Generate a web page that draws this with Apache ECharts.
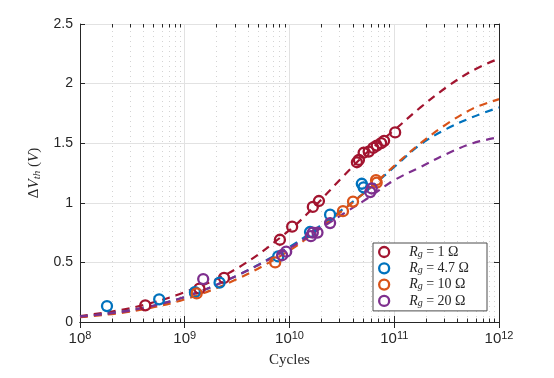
<!DOCTYPE html>
<html><head><meta charset="utf-8">
<script src="https://cdn.jsdelivr.net/npm/echarts@6/dist/echarts.min.js"></script>
<style>html,body{margin:0;padding:0;background:#fff}#c{width:554px;height:378px}</style>
</head><body><div id="c"></div>
<script>
// ---- data ----
const seriesNames = ['Rg = 1 Ω', 'Rg = 4.7 Ω', 'Rg = 10 Ω', 'Rg = 20 Ω'];
const rgLabels = ['1', '4.7', '10', '20'];
const colors = ['#A2142F', '#0072BD', '#D95319', '#7E2F8E'];

const meas1 = [[4.2e8,0.14],[1.38e9,0.28],[2.37e9,0.37],[8.1e9,0.69],[1.06e10,0.80],[1.67e10,0.965],[1.91e10,1.015],
  [4.4e10,1.34],[4.6e10,1.36],[5.1e10,1.42],[5.7e10,1.43],[6.3e10,1.46],[6.8e10,1.48],[7.5e10,1.50],[8.0e10,1.52],[1.02e11,1.59]];
const meas47 = [[1.81e8,0.134],[5.7e8,0.19],[1.25e9,0.25],[2.15e9,0.33],[7.8e9,0.55],[1.57e10,0.755],[2.44e10,0.90],[4.9e10,1.16],[5.1e10,1.13]];
const meas10 = [[1.3e9,0.24],[7.3e9,0.50],[3.24e10,0.93],[4.04e10,1.01],[6.7e10,1.19],[6.8e10,1.17]];
const meas20 = [[1.5e9,0.36],[8.5e9,0.56],[9.3e9,0.59],[1.6e10,0.72],[1.67e10,0.75],[1.85e10,0.75],[2.44e10,0.83],[5.9e10,1.09],[6.1e10,1.12]];

const fitX = [1e8,3.16e8,1e9,3.16e9,1e10,1.78e10,3.16e10,5.62e10,1e11,1.78e11,3.16e11,5.62e11,1e12];
const fit1  = [0.05,0.12,0.25,0.45,0.77,0.98,1.21,1.43,1.61,1.80,1.97,2.11,2.21];
const fit47 = [0.045,0.10,0.21,0.39,0.63,0.78,0.94,1.11,1.30,1.49,1.62,1.72,1.80];
const fit10 = [0.04,0.09,0.19,0.36,0.60,0.76,0.93,1.11,1.31,1.50,1.66,1.79,1.87];
const fit20 = [0.045,0.10,0.21,0.39,0.62,0.76,0.90,1.04,1.19,1.30,1.41,1.50,1.55];

const xMin = 1e8, xMax = 1e12, yMin = 0, yMax = 2.5, yStep = 0.5;
const minorX = [];
for (let d = 8; d < 12; d++) for (let m = 2; m <= 9; m++) minorX.push(m * Math.pow(10, d));

// ---- chart ----
const chart = echarts.init(document.getElementById('c'), null, {renderer: 'canvas'});
const meas = [meas1, meas47, meas10, meas20];
const fits = [fit1, fit47, fit10, fit20];
const axisColor = '#262626';
const sans = 'Liberation Sans, Arial, sans-serif';
const serif = 'Liberation Serif, Times New Roman, serif';

const series = [];
series.push({
  type: 'custom', name: 'minor', coordinateSystem: 'cartesian2d', silent: true, z: 1,
  data: minorX.map(v => [v, 0]),
  renderItem: (params, api) => {
    const x = api.value(0);
    const b = api.coord([x, yMin]); const t = api.coord([x, yMax]);
    const px = Math.round(b[0]) + 0.5;
    return {type: 'group', children: [
      {type: 'line', shape: {x1: px, y1: b[1], x2: px, y2: t[1]}, style: {stroke: '#d4d4d4', lineWidth: 1, lineDash: [1, 4]}},
      {type: 'line', shape: {x1: px, y1: b[1], x2: px, y2: b[1] - 3.5}, style: {stroke: axisColor, lineWidth: 1}},
      {type: 'line', shape: {x1: px, y1: t[1], x2: px, y2: t[1] + 3.5}, style: {stroke: axisColor, lineWidth: 1}}
    ]};
  }
});
for (let i = 0; i < 4; i++) {
  series.push({
    type: 'line', name: 'fit' + i, data: fitX.map((x, j) => [x, fits[i][j]]),
    smooth: 0.35, showSymbol: false, silent: true, z: 3,
    lineStyle: {color: colors[i], width: 2.2, type: [8, 6]}
  });
}
for (let i = 0; i < 4; i++) {
  series.push({
    type: 'scatter', name: seriesNames[i], data: meas[i], symbol: 'circle', symbolSize: 10, z: 5,
    itemStyle: {color: '#ffffff00', borderColor: colors[i], borderWidth: 2.3, opacity: 1}
  });
}

const option = {
  backgroundColor: '#fff',
  animation: false,
  grid: {left: 80, top: 24, right: 55, bottom: 56, containLabel: false},
  legend: {
    data: seriesNames.map(n => ({name: n, icon: 'circle', itemStyle: {color: '#ffffff00', borderWidth: 2.3}})),
    orient: 'vertical', left: 373, top: 243,
    itemWidth: 40, itemHeight: 10, itemGap: 2.3,
    padding: [2, 18, 3, 5],
    backgroundColor: '#fff', borderColor: '#4d4d4d', borderWidth: 1,
    formatter: name => {
      const i = seriesNames.indexOf(name);
      return '{i|R}{s|g}{n| = ' + rgLabels[i] + ' Ω}';
    },
    textStyle: {
      rich: {
        i: {fontFamily: serif, fontStyle: 'italic', fontSize: 14, color: '#262626', lineHeight: 14},
        s: {fontFamily: serif, fontStyle: 'italic', fontSize: 10, color: '#262626', lineHeight: 10, padding: [4, 0, 0, 0]},
        n: {fontFamily: serif, fontSize: 14, color: '#262626', lineHeight: 14}
      }
    }
  },
  xAxis: [{
    type: 'log', logBase: 10, min: xMin, max: xMax, position: 'bottom',
    axisLine: {show: true, lineStyle: {color: axisColor, width: 1}},
    axisTick: {show: true, inside: true, length: 6, lineStyle: {color: axisColor}},
    splitLine: {show: true, lineStyle: {color: '#e2e2e2', width: 1}},
    axisLabel: {
      margin: 8,
      formatter: v => '{b|10}{e|' + Math.round(Math.log10(v)) + '}',
      rich: {
        b: {fontFamily: sans, fontSize: 15, color: axisColor, lineHeight: 18},
        e: {fontFamily: sans, fontSize: 11, color: axisColor, verticalAlign: 'top', lineHeight: 18, padding: [0, 0, 7, 0]}
      }
    },
    name: 'Cycles', nameLocation: 'middle', nameGap: 28,
    nameTextStyle: {fontFamily: serif, fontSize: 15, color: axisColor}
  }, {
    type: 'log', logBase: 10, min: xMin, max: xMax, position: 'top',
    axisLine: {show: true, lineStyle: {color: axisColor, width: 1}},
    axisTick: {show: true, inside: true, length: 6, lineStyle: {color: axisColor}},
    axisLabel: {show: false}, splitLine: {show: false}
  }],
  yAxis: [{
    type: 'value', min: yMin, max: yMax, interval: yStep, position: 'left',
    axisLine: {show: true, lineStyle: {color: axisColor, width: 1}},
    axisTick: {show: true, inside: true, length: 5, lineStyle: {color: axisColor}},
    splitLine: {show: true, lineStyle: {color: '#e2e2e2', width: 1}},
    axisLabel: {margin: 7, fontFamily: sans, fontSize: 14, color: axisColor},
    name: '{d|Δ}{v|V}{s|th}{n| (}{v|V}{n|)}', nameLocation: 'middle', nameGap: 34, nameRotate: 90,
    nameTextStyle: {
      color: axisColor,
      rich: {
        d: {fontFamily: serif, fontSize: 15, color: axisColor},
        v: {fontFamily: serif, fontStyle: 'italic', fontSize: 15, color: axisColor},
        s: {fontFamily: serif, fontStyle: 'italic', fontSize: 11, color: axisColor, padding: [6, 0, 0, 0]},
        n: {fontFamily: serif, fontSize: 15, color: axisColor}
      }
    }
  }, {
    type: 'value', min: yMin, max: yMax, interval: yStep, position: 'right',
    axisLine: {show: true, lineStyle: {color: axisColor, width: 1}},
    axisTick: {show: true, inside: true, length: 5, lineStyle: {color: axisColor}},
    axisLabel: {show: false}, splitLine: {show: false}
  }],
  series: series
};
chart.setOption(option);
</script>
</body></html>
